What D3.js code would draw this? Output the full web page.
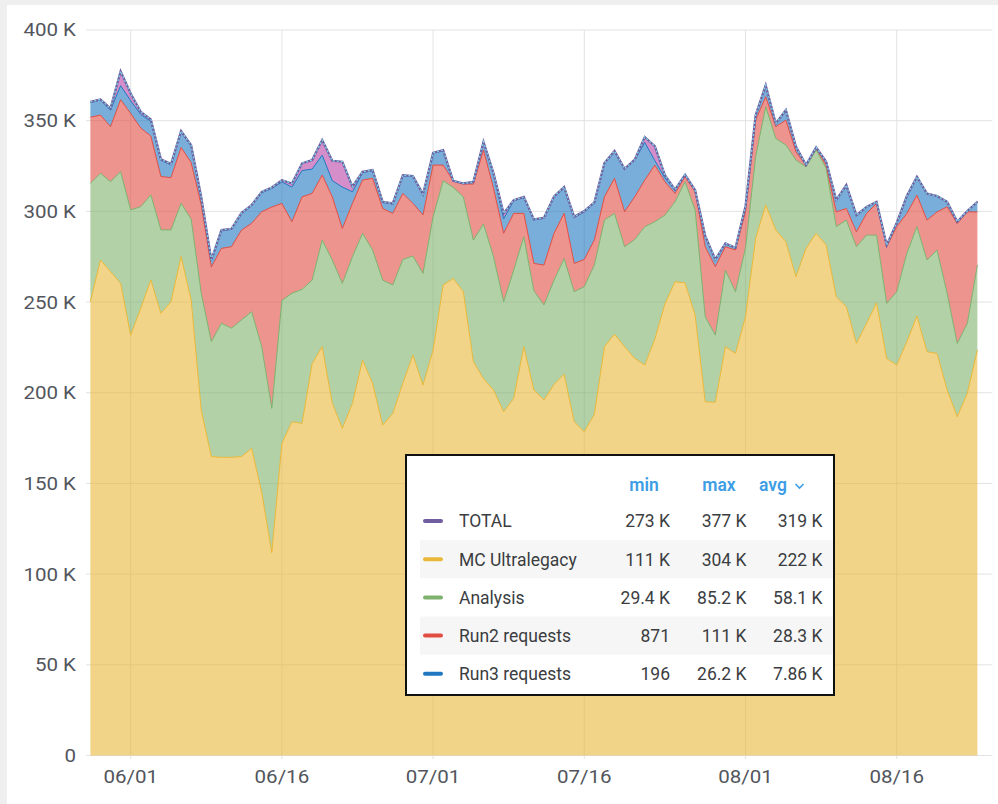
<!DOCTYPE html>
<html><head><meta charset="utf-8">
<script src="https://cdn.jsdelivr.net/npm/d3@7"></script>
<style>
html,body{margin:0;padding:0;background:#efefef;}
svg{display:block;font-family:Roboto,"Noto Sans",sans-serif;}
</style></head>
<body><svg id="chart" width="998" height="804"></svg>
<script>
// ---- data (values in thousands) ----
const startDate = "2023-05-28";
const mcUltralegacy = [
250.2,273.2,266.8,260.3,231.8,246.6,262.2,243.8,250.2,275.1,
251.2,190.5,164.8,164.4,164.4,164.8,169.4,145.0,111.8,172.1,
184.0,183.1,216.0,225.4,194.2,180.4,194.2,218.0,205.2,182.2,
188.6,205.2,220.8,204.2,223.5,259.4,263.0,255.7,217.1,207.8,
201.5,189.5,196.9,225.4,201.5,196.0,204.6,210.2,184.0,178.5,
188.1,225.4,232.3,225.4,219.0,215.3,229.5,249.0,261.2,260.6,
242.8,195.0,194.8,225.4,221.7,242.0,285.1,303.5,289.7,283.3,
264.0,279.6,287.9,281.4,252.9,247.4,227.2,238.2,249.6,218.9,
215.3,228.1,242.3,222.6,221.7,201.5,186.8,199.7,223.6];
const analysis = [
65.3,47.8,49.6,61.6,69.0,56.0,46.9,46.0,39.6,29.4,
44.5,64.4,63.4,73.9,71.2,75.4,75.3,80.4,79.6,78.8,
70.9,73.9,46.1,58.8,79.0,79.9,80.8,69.9,73.5,79.9,
70.8,68.3,54.6,61.6,73.5,57.5,50.2,52.3,67.1,85.2,
73.5,60.7,70.7,60.6,54.7,52.4,57.5,63.8,71.7,80.0,
82.3,69.8,66.6,55.1,65.5,76.2,64.8,48.9,44.1,55.8,
57.9,46.9,37.0,42.2,34.0,38.0,45.0,54.2,50.5,53.3,
64.3,44.9,46.0,42.3,38.7,47.8,53.3,48.7,37.3,30.4,
40.4,48.7,49.3,50.6,57.0,53.3,40.4,38.5,46.8];
const run2Requests = [
36.4,32.1,30.3,39.7,53.2,43.3,32.4,29.4,28.8,30.7,
31.2,48.6,41.1,41.3,44.9,49.5,48.7,74.4,111.0,53.5,
39.4,51.0,47.8,35.8,34.8,30.3,29.4,29.4,39.5,39.5,
39.5,36.4,29.0,32.2,28.5,8.6,3.5,7.0,30.8,40.8,
37.7,37.7,31.3,12.9,15.1,22.0,25.8,24.9,15.6,15.0,
13.8,12.8,19.3,19.3,23.5,25.7,31.2,18.4,4.6,2.7,
10.1,38.6,37.7,12.9,23.0,20.0,20.2,5.5,6.5,13.7,
4.5,0.87,0.9,1.9,8.1,6.4,8.2,11.9,17.5,31.2,
35.9,22.0,17.3,22.0,21.0,47.7,66.1,61.5,29.3];
const run3Requests = [
8.2,8.3,9.1,7.7,7.0,7.5,8.2,9.0,7.0,8.6,
9.1,4.2,3.7,9.8,9.6,9.2,9.8,10.5,10.3,11.8,
19.1,14.5,13.4,11.0,8.9,22.8,6.4,4.0,4.3,3.4,
5.2,9.8,14.8,11.2,6.5,8.0,0.2,0.4,1.3,4.6,
7.8,8.0,7.0,8.8,24.0,25.8,20.1,14.2,25.4,26.2,
20.5,18.4,14.8,23.4,20.2,20.8,2.5,2.2,1.8,1.1,
0.9,5.7,3.7,1.6,1.0,2.7,2.8,6.4,1.8,5.6,
2.9,0.4,0.5,1.8,6.6,12.9,9.2,3.7,0.9,0.9,
2.2,9.7,10.2,14.6,8.8,2.8,1.0,0.5,5.6];
const otherRequests = [
0.3,0.3,1.0,8.0,4.0,1.5,1.0,0.5,0.5,0.5,
0.5,0.3,0.2,0.3,0.3,0.3,0.3,0.5,0.5,1.0,
2.0,4.0,5.0,8.3,11.0,14.0,2.8,0.5,0.3,0.3,
0.3,0.3,0.3,0.3,0.3,0.3,0.0,0.0,0.0,0.0,
0.5,3.0,0.3,0.3,0.3,0.3,0.3,0.3,0.3,0.3,
0.3,0.3,0.3,0.3,0.3,3.0,8.0,1.5,0.3,0.0,
0.0,0.3,0.3,0.3,0.3,0.3,0.0,0.0,0.0,0.0,
0.0,0.0,0.0,0.0,0.0,0.0,0.0,0.0,0.0,0.0,
0.0,0.0,0.0,0.0,0.0,0.0,0.0,0.0,0.0];
const totalValues = [
360.4,361.7,356.8,377.3,365.0,354.9,350.7,328.7,326.1,344.3,
336.5,308.0,273.2,289.7,290.4,299.2,303.5,310.8,313.2,317.2,
315.4,326.5,328.3,339.3,327.9,327.4,313.6,321.8,322.8,305.3,
304.4,320.0,319.5,309.5,332.3,333.8,316.9,315.4,316.3,338.4,
321.0,298.9,306.2,308.0,295.6,296.5,308.3,313.4,297.0,300.2,
305.0,326.7,333.3,323.5,328.5,341.0,336.0,320.0,312.0,320.2,
311.7,286.5,273.5,282.4,280.0,303.0,353.1,369.6,348.5,355.9,
335.7,325.6,335.3,327.4,306.3,314.5,297.9,302.5,305.3,281.4,
293.8,308.5,319.1,309.8,308.5,305.3,294.3,300.2,305.3];

const xTickDates = ["2023-06-01","2023-06-16","2023-07-01","2023-07-16","2023-08-01","2023-08-16"];
const xTickLabels = ["06/01","06/16","07/01","07/16","08/01","08/16"];
const yTicks = [0,50,100,150,200,250,300,350,400];
const yTickLabels = ["0","50 K","100 K","150 K","200 K","250 K","300 K","350 K","400 K"];

const legendNames = ["TOTAL","MC Ultralegacy","Analysis","Run2 requests","Run3 requests"];
const legendColors = ["#705DA0","#EAB839","#7EB26D","#E24D42","#1F78C1"];
const legendMin = ["273 K","111 K","29.4 K","871","196"];
const legendMax = ["377 K","304 K","85.2 K","111 K","26.2 K"];
const legendAvg = ["319 K","222 K","58.1 K","28.3 K","7.86 K"];

// ---- build table ----
const keys = ["mc","analysis","run2","run3","other"];
const seriesColors = {mc:"#EAB839",analysis:"#7EB26D",run2:"#E24D42",run3:"#1F78C1",other:"#BA43A9"};
const t0 = d3.utcParse("%Y-%m-%d")(startDate);
const table = mcUltralegacy.map((v,i)=>({
  date: d3.utcDay.offset(t0,i),
  mc: v, analysis: analysis[i], run2: run2Requests[i], run3: run3Requests[i], other: otherRequests[i],
  total: totalValues[i]
}));

const svg = d3.select("#chart");
svg.append("rect").attr("x",7).attr("y",5).attr("width",991).attr("height",799).attr("fill","#ffffff");

const x = d3.scaleUtc()
  .domain([new Date(Date.UTC(2023,4,27,23,8)), new Date(Date.UTC(2023,7,25,10,5))])
  .range([90, 991.7]);
const y = d3.scaleLinear().domain([0,400]).range([755.5,30]);

// grid
const grid = svg.append("g");
grid.selectAll(".hg").data(yTicks).join("line")
  .attr("x1",86).attr("x2",991.7)
  .attr("y1",d=>y(d)).attr("y2",d=>y(d))
  .attr("stroke","#e2e2e2").attr("stroke-width",1);
const parse = d3.utcParse("%Y-%m-%d");
grid.selectAll(".vg").data(xTickDates).join("line")
  .attr("x1",d=>x(parse(d))).attr("x2",d=>x(parse(d)))
  .attr("y1",30).attr("y2",759)
  .attr("stroke","#e2e2e2").attr("stroke-width",1);

// stacked areas
const stack = d3.stack().keys(keys);
const layers = stack(table);
const area = d3.area().x(d=>x(d.data.date)).y0(d=>y(d[0])).y1(d=>y(d[1]));
const topLine = d3.line().x(d=>x(d.data.date)).y(d=>y(d[1]));
svg.append("g").selectAll("path").data(layers).join("path")
  .attr("d",area).attr("fill",d=>seriesColors[d.key]).attr("fill-opacity",0.6);
svg.append("g").selectAll("path").data(layers).join("path")
  .attr("d",topLine).attr("fill","none").attr("stroke",d=>seriesColors[d.key]).attr("stroke-width",1);

// TOTAL line
const totalLine = d3.line().x(d=>x(d.date)).y(d=>y(d.total));
svg.append("path").datum(table).attr("d",totalLine).attr("fill","none")
  .attr("stroke","#705DA0").attr("stroke-width",2.2);
svg.append("path").datum(table).attr("d",totalLine).attr("fill","none")
  .attr("stroke","#7fd2e4").attr("stroke-width",1.4).attr("stroke-dasharray","2,2");

// axes labels (slightly wide glyphs as in the reference)
const axisColor = "#52565c";
svg.append("g").selectAll("text").data(yTicks).join("text")
  .attr("transform",d=>`translate(76,${y(d)}) scale(1.14,1)`)
  .attr("dy","0.36em").attr("text-anchor","end")
  .attr("font-size",18).attr("fill",axisColor).text((d,i)=>yTickLabels[i]);
svg.append("g").selectAll("text").data(xTickDates).join("text")
  .attr("transform",d=>`translate(${x(parse(d))},777) scale(1.14,1)`)
  .attr("dy","0.36em").attr("text-anchor","middle")
  .attr("font-size",18).attr("fill",axisColor).text((d,i)=>xTickLabels[i]);

// legend
const lg = svg.append("g");
lg.append("rect").attr("x",406).attr("y",455).attr("width",428).attr("height",240)
  .attr("fill","#ffffff").attr("stroke","#111111").attr("stroke-width",2);
const hdrColor = "#3d9ee6";
lg.append("text").attr("x",644).attr("y",485).attr("dy","0.36em").attr("text-anchor","middle")
  .attr("font-size",17.5).attr("font-weight",600).attr("fill",hdrColor).text("min");
lg.append("text").attr("x",719).attr("y",485).attr("dy","0.36em").attr("text-anchor","middle")
  .attr("font-size",17.5).attr("font-weight",600).attr("fill",hdrColor).text("max");
lg.append("text").attr("x",773).attr("y",485).attr("dy","0.36em").attr("text-anchor","middle")
  .attr("font-size",17.5).attr("font-weight",600).attr("fill",hdrColor).text("avg");
lg.append("path").attr("d","M795.5,484 L799.5,488 L803.5,484").attr("fill","none")
  .attr("stroke",hdrColor).attr("stroke-width",1.6);
const rowY = i => 521 + i*38.2;
legendNames.forEach((name,i)=>{
  if(i%2===1){
    lg.append("rect").attr("x",420).attr("y",rowY(i)-19).attr("width",413).attr("height",38)
      .attr("fill","#f6f6f6");
  }
  lg.append("rect").attr("x",423).attr("y",rowY(i)-2).attr("width",20).attr("height",4).attr("rx",2)
    .attr("fill",legendColors[i]);
  lg.append("text").attr("x",459).attr("y",rowY(i)).attr("dy","0.36em")
    .attr("font-size",17.5).attr("fill","#3b3d41").text(name);
  lg.append("text").attr("x",670).attr("y",rowY(i)).attr("dy","0.36em").attr("text-anchor","end")
    .attr("font-size",17.5).attr("fill","#3b3d41").text(legendMin[i]);
  lg.append("text").attr("x",746.5).attr("y",rowY(i)).attr("dy","0.36em").attr("text-anchor","end")
    .attr("font-size",17.5).attr("fill","#3b3d41").text(legendMax[i]);
  lg.append("text").attr("x",822.5).attr("y",rowY(i)).attr("dy","0.36em").attr("text-anchor","end")
    .attr("font-size",17.5).attr("fill","#3b3d41").text(legendAvg[i]);
});
</script>
</body></html>
